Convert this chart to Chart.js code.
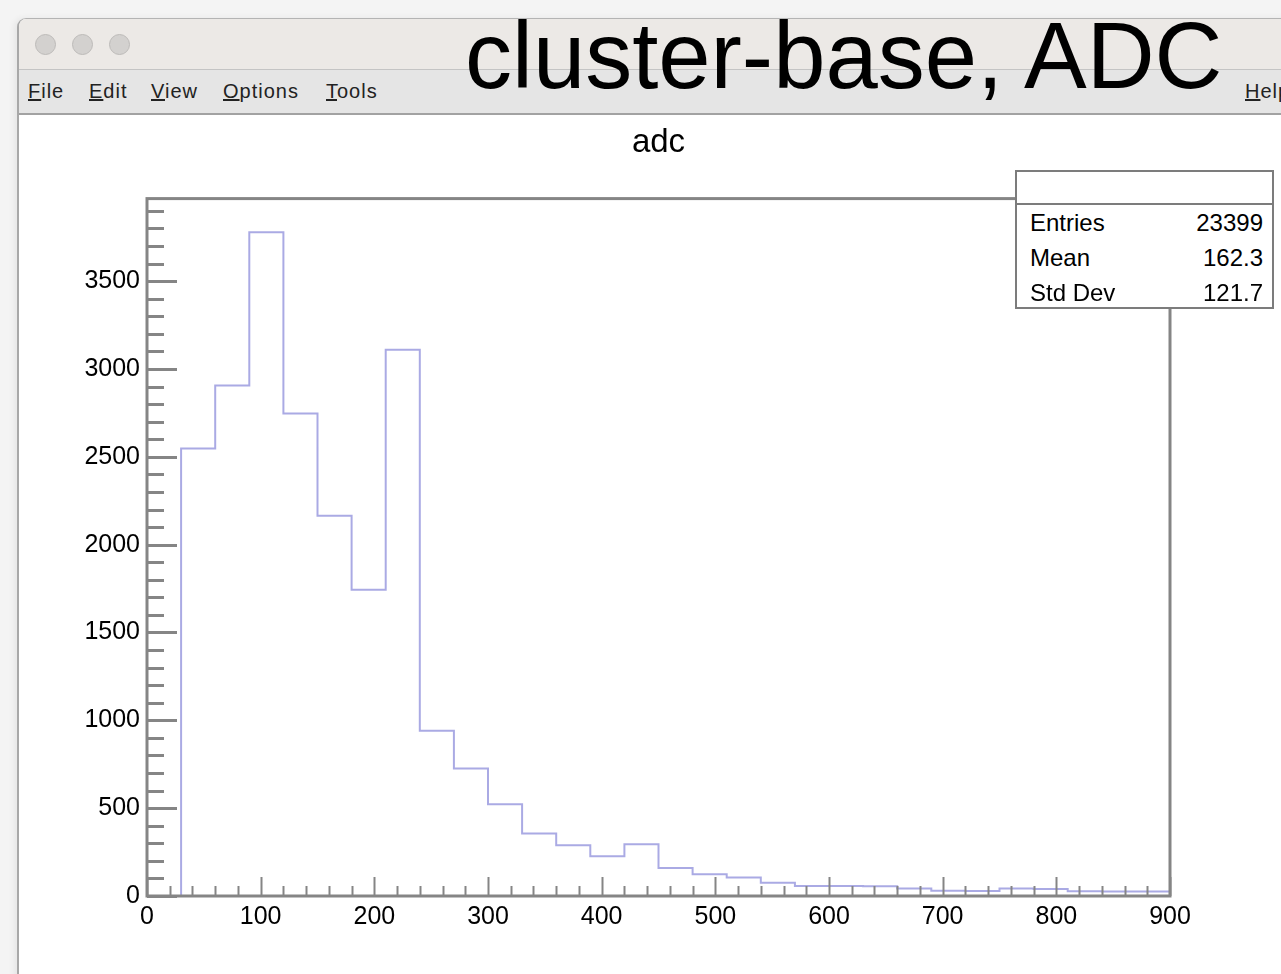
<!DOCTYPE html>
<html>
<head>
<meta charset="utf-8">
<script src="https://cdn.jsdelivr.net/npm/chart.js@4/dist/chart.umd.min.js"></script>
<style>
body { margin: 0; width: 1281px; height: 974px; overflow: hidden; background: #f4f4f4; position: relative; font-family: "Liberation Sans", Arial, sans-serif; }
#ventana { position: absolute; left: 17px; top: 18px; width: 1300px; height: 980px; border-left: 2px solid #a8a8a8; border-top: 1px solid #b4b4b4; border-top-left-radius: 9px; background: #fff; overflow: hidden; box-shadow: -3px 0 6px rgba(0,0,0,0.06); }
#barraTitulo { position: absolute; left: 0; top: 0; width: 100%; height: 50px; background: #ece9e6; border-bottom: 1px solid #c4c4c4; }
.boton { position: absolute; top: 15px; width: 19px; height: 19px; border-radius: 50%; background: #d3d1cf; border: 1px solid #bdbbb9; }
#barraMenu { position: absolute; left: 0; top: 51px; width: 100%; height: 43px; background: #e5e5e5; border-bottom: 2px solid #a2a2a2; }
.menu { position: absolute; top: 10px; font-size: 20px; letter-spacing: 1px; color: #222; }
#cartel { position: absolute; left: 465px; top: 9px; font-size: 94px; line-height: 1; color: #000; z-index: 5; white-space: nowrap; }
#stats { position: absolute; left: 1015px; top: 170px; width: 255px; height: 135px; border: 2px solid #7c7c7c; background: #fff; z-index: 4; font-size: 24px; }
#stats .cabecera { height: 31px; border-bottom: 2px solid #7c7c7c; }
#stats .fila { position: relative; height: 35px; line-height: 35px; }
#stats .fila span { position: absolute; }
#grafico { position: absolute; left: 0; top: 0; z-index: 3; }
</style>
</head>
<body>
<div id="ventana">
	<div id="barraTitulo">
		<div class="boton" style="left:16px"></div>
		<div class="boton" style="left:53px"></div>
		<div class="boton" style="left:90px"></div>
	</div>
	<div id="barraMenu">
		<span class="menu" style="left:9px"><u>F</u>ile</span>
		<span class="menu" style="left:70px"><u>E</u>dit</span>
		<span class="menu" style="left:132px"><u>V</u>iew</span>
		<span class="menu" style="left:204px"><u>O</u>ptions</span>
		<span class="menu" style="left:307px"><u>T</u>ools</span>
		<span class="menu" style="left:1226px"><u>H</u>elp</span>
	</div>
</div>
<div id="cartel">cluster-base, ADC</div>
<div id="stats">
	<div class="cabecera"></div>
	<div class="fila"><span style="left:13px">Entries</span><span style="right:9px">23399</span></div>
	<div class="fila"><span style="left:13px">Mean</span><span style="right:9px">162.3</span></div>
	<div class="fila"><span style="left:13px">Std Dev</span><span style="right:9px">121.7</span></div>
</div>
<canvas id="grafico" width="1281" height="974"></canvas>
<script>
// bordes de los bins (ADC), 30 bins de 0 a 900
var bordes = [0, 30, 60, 90, 120, 150, 180, 210, 240, 270, 300, 330, 360, 390, 420,
	450, 480, 510, 540, 570, 600, 630, 660, 690, 720, 750, 780, 810, 840, 870, 900];

var cuentas = [0, 2548, 2906, 3778, 2746, 2165, 1743, 3109, 941, 726, 523, 356, 289, 226, 295,
	160, 124, 105, 76, 57, 57, 55, 42, 30, 28, 42, 40, 27, 26, 25];

var ticksX = [0, 100, 200, 300, 400, 500, 600, 700, 800, 900];
var ticksY = [0, 500, 1000, 1500, 2000, 2500, 3000, 3500];
var maxY = 3970;

var puntos = bordes.map(function (b, i) {
	return { x: b, y: cuentas[Math.min(i, cuentas.length - 1)] };
});

var gris = '#858585';
var fuente = { family: 'Liberation Sans', size: 25 };

// marco de ROOT con las marcas hacia adentro
var marcoPlugin = {
	id: 'marco',
	afterDatasetsDraw: function (chart) {
		var ctx = chart.ctx;
		var area = chart.chartArea;
		var sx = chart.scales.x, sy = chart.scales.y;
		ctx.save();
		ctx.strokeStyle = gris;
		ctx.lineWidth = 2;
		for (var v = sx.min; v <= sx.max; v += 20) {
			let px = Math.round(sx.getPixelForValue(v)) + 0.5;
			let largo = (v % 100 === 0) ? 19 : 10;
			ctx.beginPath();
			ctx.moveTo(px, area.bottom);
			ctx.lineTo(px, area.bottom - largo);
			ctx.stroke();
		}
		ctx.lineWidth = 3;
		for (var w = 0; w < sy.max; w += 100) {
			let py = Math.round(sy.getPixelForValue(w)) + 0.5;
			let largo = (w % 500 === 0) ? 30 : 17;
			ctx.beginPath();
			ctx.moveTo(area.left, py);
			ctx.lineTo(area.left + largo, py);
			ctx.stroke();
		}
		ctx.strokeRect(area.left, area.top, area.right - area.left, area.bottom - area.top);
		ctx.restore();
	}
};

var ctx = document.getElementById('grafico').getContext('2d');
var chart = new Chart(ctx, {
	type: 'line',
	data: {
		datasets: [{
			label: 'adc',
			data: puntos,
			stepped: true,
			borderColor: 'rgb(170,170,228)',
			borderWidth: 2,
			pointRadius: 0,
			fill: false
		}]
	},
	options: {
		responsive: false,
		animation: false,
		devicePixelRatio: 1,
		layout: { padding: { left: 0, right: 111, top: 0, bottom: 0 } },
		plugins: {
			legend: { display: false },
			tooltip: { enabled: false },
			title: {
				display: true,
				fullSize: false,
				text: 'adc',
				color: '#000',
				font: { family: 'Liberation Sans', size: 33, weight: 'normal' },
				padding: { top: 123, bottom: 36 }
			}
		},
		scales: {
			x: {
				type: 'linear',
				min: ticksX[0],
				max: ticksX[ticksX.length - 1],
				bounds: 'data',
				grid: { display: false, drawTicks: false },
				border: { display: false },
				ticks: { padding: 6, color: '#000', font: fuente, maxRotation: 0, autoSkip: false },
				afterBuildTicks: function (scale) {
					scale.ticks = ticksX.map(function (v) { return { value: v }; });
				},
				afterFit: function (scale) { scale.height = 78; }
			},
			y: {
				type: 'linear',
				min: 0,
				max: maxY,
				bounds: 'data',
				grid: { display: false, drawTicks: false },
				border: { display: false },
				ticks: { padding: 7, color: '#000', font: fuente, autoSkip: false,
					callback: function (v) { return String(v); } },
				afterBuildTicks: function (scale) {
					scale.ticks = ticksY.map(function (v) { return { value: v }; });
				},
				afterFit: function (scale) { scale.width = 147; }
			}
		}
	},
	plugins: [marcoPlugin]
});
</script>
</body>
</html>
